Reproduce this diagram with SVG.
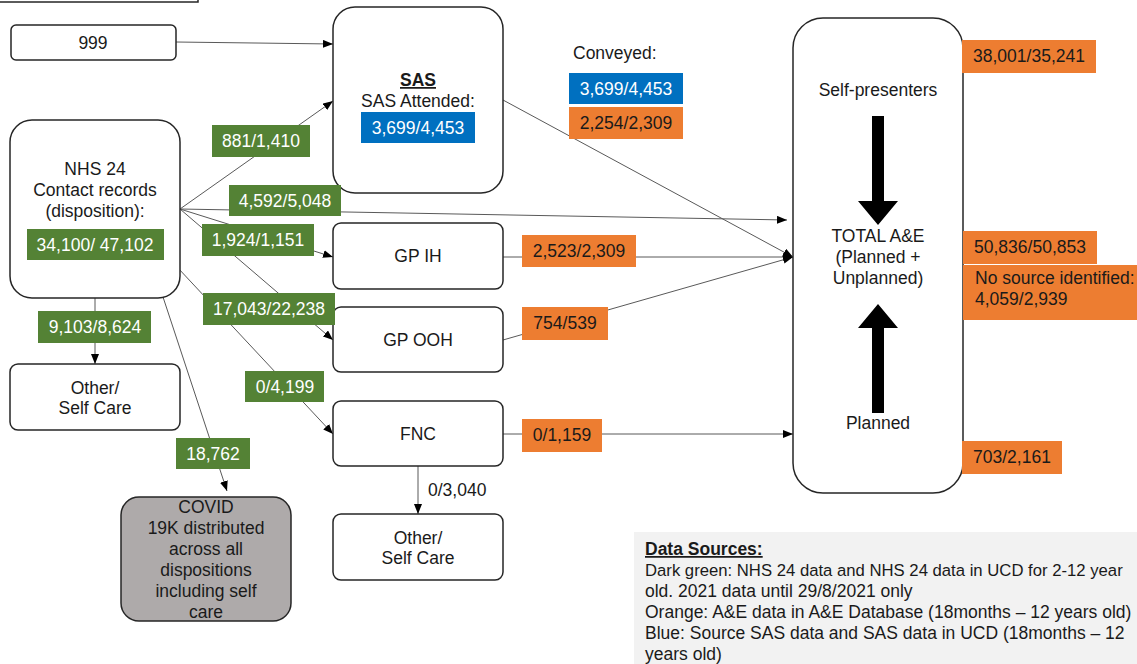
<svg xmlns="http://www.w3.org/2000/svg" width="1137" height="664" viewBox="0 0 1137 664">
<defs>
<marker id="ah" markerWidth="10" markerHeight="8" refX="10" refY="4" orient="auto" markerUnits="userSpaceOnUse">
<path d="M0,0 L10,4 L0,8 Z" fill="#000"/>
</marker>
<style>
text{font-family:"Liberation Sans",Arial,sans-serif;font-size:17.5px;fill:#1a1a1a}
.node{fill:#fff;stroke:#262626;stroke-width:1.5}
.c{text-anchor:middle}
.g{fill:#548235}
.o{fill:#ED7D31}
.b{fill:#0070C0}
.w{fill:#fff}
.ln{fill:none;stroke:#595959;stroke-width:1;marker-end:url(#ah)}
</style>
</defs>
<rect x="-2" y="-20" width="200" height="22" fill="#fff" stroke="#262626" stroke-width="1.5"/>

<g id="connectors">
<line class="ln" x1="176" y1="42" x2="333" y2="44"/>
<line class="ln" x1="180" y1="209" x2="333" y2="101"/>
<line class="ln" x1="180" y1="209" x2="787" y2="220"/>
<line class="ln" x1="180" y1="209" x2="333" y2="257"/>
<line class="ln" x1="180" y1="209" x2="333" y2="340"/>
<line class="ln" x1="178" y1="268" x2="333" y2="434"/>
<line class="ln" x1="163" y1="297" x2="227" y2="491"/>
<line class="ln" x1="95" y1="298" x2="95" y2="364"/>
<line class="ln" x1="418" y1="466" x2="418" y2="514"/>
<line class="ln" x1="503" y1="100" x2="793" y2="257"/>
<line class="ln" x1="503" y1="257" x2="793" y2="257"/>
<line class="ln" x1="503" y1="340" x2="793" y2="257"/>
<line class="ln" x1="503" y1="434" x2="793" y2="434"/>
</g>

<g id="n999">
<rect class="node" x="11" y="25" width="165" height="35" rx="5"/>
<text class="c" x="93" y="49">999</text>
</g>

<g id="sas">
<rect class="node" x="333" y="7" width="170" height="186" rx="22"/>
<text class="c" x="418" y="86" font-weight="bold" text-decoration="underline">SAS</text>
<text class="c" x="418" y="107">SAS Attended:</text>
<rect class="b" x="361" y="112" width="114" height="31"/>
<text class="c w" x="418" y="134">3,699/4,453</text>
</g>

<g id="nhs24">
<rect class="node" x="10" y="120" width="170" height="178" rx="22"/>
<text class="c" x="95" y="175">NHS 24</text>
<text class="c" x="95" y="196">Contact records</text>
<text class="c" x="95" y="217">(disposition):</text>
<rect class="g" x="27" y="229" width="137" height="31"/>
<text class="c w" x="95" y="251">34,100/ 47,102</text>
</g>

<g id="gpih">
<rect class="node" x="333" y="223" width="170" height="66" rx="8"/>
<text class="c" x="418" y="262">GP IH</text>
</g>

<g id="gpooh">
<rect class="node" x="333" y="307" width="170" height="65" rx="8"/>
<text class="c" x="418" y="346">GP OOH</text>
</g>

<g id="fnc">
<rect class="node" x="333" y="401" width="170" height="65" rx="8"/>
<text class="c" x="418" y="440">FNC</text>
</g>

<g id="other2">
<rect class="node" x="333" y="514" width="170" height="66" rx="8"/>
<text class="c" x="418" y="544">Other/</text>
<text class="c" x="418" y="564">Self Care</text>
</g>

<g id="other1">
<rect class="node" x="10" y="364" width="170" height="66" rx="8"/>
<text class="c" x="95" y="394">Other/</text>
<text class="c" x="95" y="414">Self Care</text>
</g>

<g id="covid">
<rect x="121" y="497" width="170" height="124" rx="18" fill="#aeaaaa" stroke="#262626" stroke-width="1.5"/>
<text class="c" x="206" y="513">COVID</text>
<text class="c" x="206" y="534">19K distributed</text>
<text class="c" x="206" y="555">across all</text>
<text class="c" x="206" y="576">dispositions</text>
<text class="c" x="206" y="597">including self</text>
<text class="c" x="206" y="618">care</text>
</g>

<g id="total">
<rect class="node" x="793" y="18" width="170" height="475" rx="30"/>
<text class="c" x="878" y="96">Self-presenters</text>
<path d="M872,116 H884 V201 H898 L878,225 L858,201 H872 Z" fill="#000"/>
<text class="c" x="878" y="242">TOTAL A&amp;E</text>
<text class="c" x="878" y="263">(Planned +</text>
<text class="c" x="878" y="284">Unplanned)</text>
<path d="M878,304 L898,328 H884 V413 H872 V328 H858 Z" fill="#000"/>
<text class="c" x="878" y="429">Planned</text>
</g>

<g id="labels">
<rect class="g" x="212" y="125" width="98" height="32"/>
<text class="c w" x="261" y="147">881/1,410</text>
<rect class="g" x="229" y="185" width="112" height="31"/>
<text class="c w" x="285" y="207">4,592/5,048</text>
<rect class="g" x="202" y="224" width="112" height="32"/>
<text class="c w" x="258" y="246">1,924/1,151</text>
<rect class="g" x="203" y="293" width="132" height="32"/>
<text class="c w" x="269" y="315">17,043/22,238</text>
<rect class="g" x="245" y="371" width="79" height="31"/>
<text class="c w" x="285" y="393">0/4,199</text>
<rect class="g" x="38" y="311" width="113" height="32"/>
<text class="c w" x="95" y="333">9,103/8,624</text>
<rect class="g" x="176" y="438" width="74" height="31"/>
<text class="c w" x="213" y="460">18,762</text>
<text x="428" y="496">0/3,040</text>

<text x="573" y="59">Conveyed:</text>
<rect class="b" x="569" y="73" width="114" height="31"/>
<text class="c w" x="626" y="95">3,699/4,453</text>
<rect class="o" x="569" y="107" width="114" height="32"/>
<text class="c" x="626" y="129">2,254/2,309</text>

<rect class="o" x="522" y="235" width="114" height="32"/>
<text class="c" x="579" y="257">2,523/2,309</text>
<rect class="o" x="522" y="307" width="86" height="33"/>
<text class="c" x="565" y="329">754/539</text>
<rect class="o" x="522" y="419" width="80" height="33"/>
<text class="c" x="562" y="441">0/1,159</text>

<rect class="o" x="962" y="40" width="134" height="33"/>
<text class="c" x="1029" y="62">38,001/35,241</text>
<rect class="o" x="963" y="231" width="134" height="33"/>
<text class="c" x="1030" y="253">50,836/50,853</text>
<rect class="o" x="963" y="265" width="176" height="55"/>
<text x="975" y="284">No source identified:</text>
<text x="975" y="305">4,059/2,939</text>
<rect class="o" x="962" y="441" width="100" height="33"/>
<text class="c" x="1012" y="463">703/2,161</text>
</g>

<g id="datasources">
<rect x="634" y="532" width="505" height="134" fill="#f2f2f2"/>
<text x="645" y="555" font-weight="bold" text-decoration="underline">Data Sources:</text>
<text x="645" y="576" style="font-size:16.7px">Dark green: NHS 24 data and NHS 24 data in UCD for 2-12 year</text>
<text x="645" y="597">old. 2021 data until 29/8/2021 only</text>
<text x="645" y="618">Orange: A&amp;E data in A&amp;E Database (18months – 12 years old)</text>
<text x="645" y="639">Blue: Source SAS data and SAS data in UCD (18months – 12</text>
<text x="645" y="660">years old)</text>
</g>
</svg>
